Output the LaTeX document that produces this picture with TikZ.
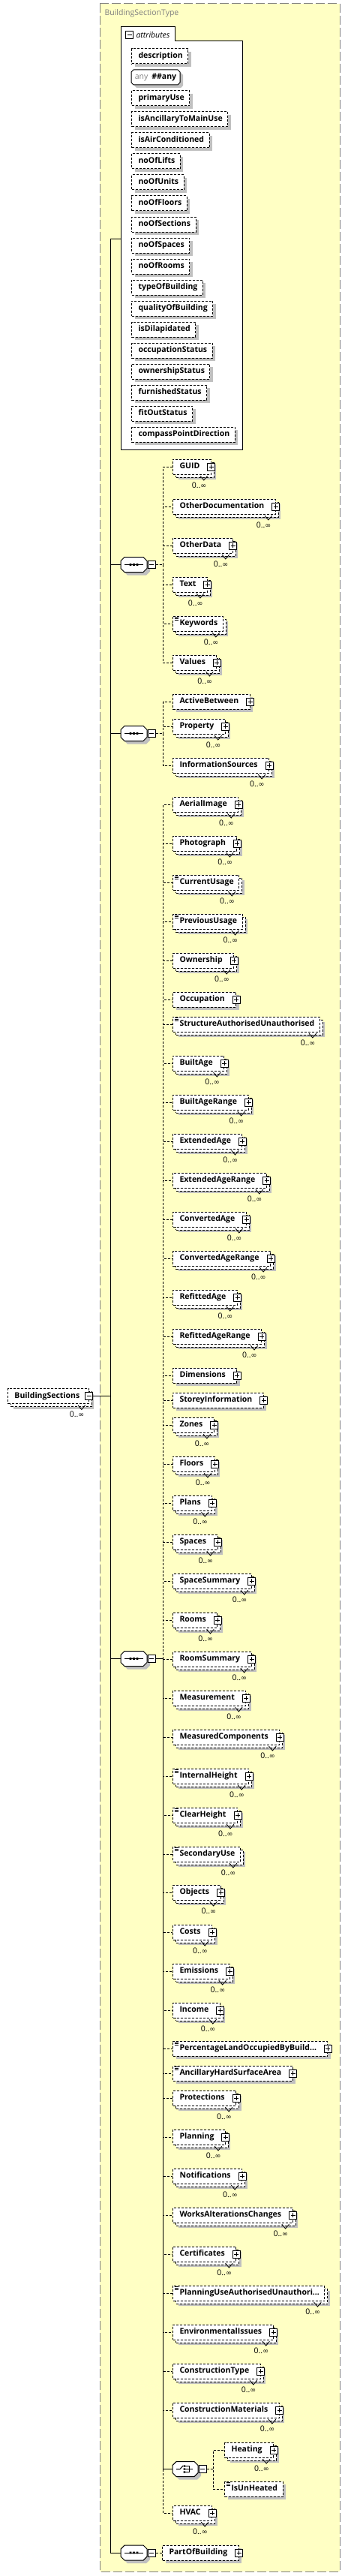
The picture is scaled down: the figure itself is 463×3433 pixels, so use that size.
\documentclass[tikz,border=0pt]{standalone}
\usepackage{fontspec}
\setmainfont{Open Sans}
\newfontfamily\symfont{DejaVu Sans}
\usetikzlibrary{positioning}

\definecolor{typebg}{RGB}{255,255,196}
\definecolor{typeline}{RGB}{128,128,128}
\definecolor{shadowgray}{RGB}{192,192,192}

\newcommand{\elfont}{\fontsize{10.5}{12.6}\selectfont\bfseries}
\newcommand{\occfont}{\fontsize{10.5}{12.6}\selectfont}
\newcommand{\infin}{{\symfont\fontsize{9.5}{10}\selectfont ∞}}

\newcommand{\octo}[4]{%
  \fill[shadowgray, shift={(#1.center)}, xshift=4pt, yshift=-4pt]
    (-#2,-#3+#4) -- (-#2+#4,-#3) -- (#2-#4,-#3) -- (#2,-#3+#4) -- (#2,#3-#4) -- (#2-#4,#3) -- (-#2+#4,#3) -- (-#2,#3-#4) -- cycle;
  \draw[fill=white, shift={(#1.center)}]
    (-#2,-#3+#4) -- (-#2+#4,-#3) -- (#2-#4,-#3) -- (#2,-#3+#4) -- (#2,#3-#4) -- (#2-#4,#3) -- (-#2+#4,#3) -- (-#2,#3-#4) -- cycle;}
\newcommand{\seqmark}[1]{%
  \draw[shift={(#1.center)}] (-12.5,0) -- (12.5,0);
  \fill[shift={(#1.center)}] (-5.8,-1.3) rectangle (-3.2,1.3) (-1.3,-1.3) rectangle (1.3,1.3) (3.2,-1.3) rectangle (5.8,1.3);}
\newcommand{\choicemark}[1]{%
  \draw[shift={(#1.center)}] (-12,0) -- (-7,0) -- (-3,-4.5);
  \fill[shift={(#1.center)}] (-2.3,-5.2) rectangle (0,-2.8) (-2.3,-1.2) rectangle (0,1.2) (-2.3,2.8) rectangle (0,5.2);
  \draw[shift={(#1.center)}] (0,-4) -- (5,-4) -- (5,4) -- (0,4) (0,0) -- (10,0);}

\tikzset{
  elbase/.style={draw, dash pattern=on 3pt off 2pt, fill=white, anchor=west, font=\elfont,
    minimum height=20pt, inner sep=0pt, text height=8pt, text depth=2.5pt,
    execute at begin node={\hspace*{9pt}}, execute at end node={\hspace*{7pt}}},
  el/.style={elbase, preaction={draw=none, fill=shadowgray, transform canvas={xshift=4pt, yshift=-4pt}}},
  elm/.style={elbase,
    preaction={draw=none, fill=shadowgray, transform canvas={xshift=7pt, yshift=-7pt}},
    preaction={draw, dash pattern=on 3pt off 2pt, fill=white, transform canvas={xshift=4pt, yshift=-4pt}},
    label={[notch]south east:}, label={[occ]south east:0..\infin}},
  kids/.style={execute at end node={\hspace*{8pt}}, label={[pbox]east:}},
  simple/.style={path picture={\draw[solid, line width=.7pt]
    ([shift={(2,1.5)}]path picture bounding box.north west) -- ++(5,0)
    ([shift={(2,3.5)}]path picture bounding box.north west) -- ++(5,0)
    ([shift={(2,5.5)}]path picture bounding box.north west) -- ++(5,0);}},
  notch/.style={anchor=north, xshift=-10pt, yshift=-1pt, minimum width=10pt, minimum height=6pt, inner sep=0pt,
    path picture={\draw[solid, line width=.8pt] (path picture bounding box.north west) -- (path picture bounding box.south) -- (path picture bounding box.north east);}},
  occ/.style={anchor=east, xshift=-6pt, yshift=-14pt, font=\occfont, inner sep=0pt},
  pbox/.style={rectangle, draw, solid, fill=white, minimum size=10pt, inner sep=0pt, anchor=center,
    path picture={\draw ([xshift=2pt]path picture bounding box.west) -- ([xshift=-2pt]path picture bounding box.east)
      ([yshift=-2pt]path picture bounding box.north) -- ([yshift=2pt]path picture bounding box.south);}},
  mbox/.style={rectangle, draw, solid, fill=white, minimum size=10pt, inner sep=0pt, anchor=center,
    path picture={\draw ([xshift=2pt]path picture bounding box.west) -- ([xshift=-2pt]path picture bounding box.east);}},
  compo/.style={rectangle, minimum width=35pt, minimum height=20pt, inner sep=0pt},
  optlink/.style={dash pattern=on 3pt off 2pt}
}

\begin{document}
\begin{tikzpicture}[x=1pt, y=-1pt, line width=1pt]
\useasboundingbox (0,0) rectangle (463,3433);
\draw[typeline, fill=typebg, dash pattern=on 12pt off 4pt] (133,5) rectangle (453,3427);
\node[anchor=west, text=typeline, font=\occfont, inner sep=0pt] (typename) at (139,18) {BuildingSectionType};

\draw[fill=white] (161,599) -- (161,36) -- (233,36) -- (233,55) -- (323,55) -- (323,599) -- cycle;
\node[mbox] (attrm) at (172.5,46.5) {};
\node[anchor=west, font=\occfont\itshape, inner sep=0pt] (attrlbl) at (181,46.5) {attributes};
\coordinate (attrs) at (161,318);
\foreach \y/\a in {75/description, 131/primaryUse, 159/isAncillaryToMainUse, 187/isAirConditioned,
  215/noOfLifts, 243/noOfUnits, 271/noOfFloors, 299/noOfSections, 327/noOfSpaces, 355/noOfRooms,
  383/typeOfBuilding, 411/qualityOfBuilding, 439/isDilapidated, 467/occupationStatus,
  495/ownershipStatus, 523/furnishedStatus, 551/fitOutStatus, 579/compassPointDirection}
  \node[el] (\a) at (175,\y) {\a};
\coordinate (anyc) at (207.5,103);
\octo{anyc}{32.5}{10}{3}
\node[font=\occfont, inner sep=0pt] (anyattr) at (anyc) {\textcolor{typeline}{any}\hspace{5pt}\textbf{\#\#any}};

\node[elm, label={[mbox, name=bsecm]east:}, execute at end node={\hspace*{5pt}}] (bsec) at (10,1860.5) {BuildingSections};
\coordinate (ttop) at (147,318);
\coordinate (tbot) at (147,3402);

\node[compo] (seqA) at (178.5,752.5) {};
\octo{seqA}{17.5}{10}{5}
\seqmark{seqA}
\node[mbox, right=0pt of seqA] (seqAm) {};
\node[elm,kids] (guid) at (230,622) {GUID};
\node[elm,kids] (otherdoc) at (230,675) {OtherDocumentation};
\node[elm,kids] (otherdata) at (230,727) {OtherData};
\node[elm,kids] (txt) at (230,779) {Text};
\node[elm,simple] (keywords) at (230,831) {Keywords};
\node[elm,kids] (values) at (230,883) {Values};

\node[compo] (seqB) at (178.5,977.5) {};
\octo{seqB}{17.5}{10}{5}
\seqmark{seqB}
\node[mbox, right=0pt of seqB] (seqBm) {};
\node[el,kids] (activebetween) at (230,935) {ActiveBetween};
\node[elm,kids] (property) at (230,968) {Property};
\node[elm,kids] (infosources) at (230,1020) {InformationSources};

\node[compo] (seqC) at (178.5,2210.5) {};
\octo{seqC}{17.5}{10}{5}
\seqmark{seqC}
\node[mbox, right=0pt of seqC] (seqCm) {};
\node[elm,kids] (aerial) at (230,1072) {AerialImage};
\node[elm,kids] (photo) at (230,1124) {Photograph};
\node[elm,simple] (curusage) at (230,1176) {CurrentUsage};
\node[elm,simple] (prevusage) at (230,1228) {PreviousUsage};
\node[elm,kids] (ownership) at (230,1280) {Ownership};
\node[el,kids] (occupation) at (230,1332) {Occupation};
\node[elm,simple] (structauth) at (230,1365) {StructureAuthorisedUnauthorised};
\node[elm,kids] (builtage) at (230,1417) {BuiltAge};
\node[elm,kids] (builtrange) at (230,1469) {BuiltAgeRange};
\node[elm,kids] (extage) at (230,1521) {ExtendedAge};
\node[elm,kids] (extrange) at (230,1573) {ExtendedAgeRange};
\node[elm,kids] (convage) at (230,1625) {ConvertedAge};
\node[elm,kids] (convrange) at (230,1677) {ConvertedAgeRange};
\node[elm,kids] (refitage) at (230,1729) {RefittedAge};
\node[elm,kids] (refitrange) at (230,1781) {RefittedAgeRange};
\node[el,kids] (dimensions) at (230,1833) {Dimensions};
\node[el,kids] (storeyinfo) at (230,1866) {StoreyInformation};
\node[elm,kids] (zones) at (230,1899) {Zones};
\node[elm,kids] (floors) at (230,1951) {Floors};
\node[elm,kids] (plans) at (230,2003) {Plans};
\node[elm,kids] (spaces) at (230,2055) {Spaces};
\node[elm,kids] (spacesum) at (230,2107) {SpaceSummary};
\node[elm,kids] (rooms) at (230,2159) {Rooms};
\node[elm,kids] (roomsum) at (230,2211) {RoomSummary};
\node[elm,kids] (measurement) at (230,2263) {Measurement};
\node[elm,kids] (measuredcomp) at (230,2315) {MeasuredComponents};
\node[elm,simple,kids] (intheight) at (230,2367) {InternalHeight};
\node[elm,simple,kids] (clearheight) at (230,2419) {ClearHeight};
\node[elm,simple] (secuse) at (230,2471) {SecondaryUse};
\node[elm,kids] (objects) at (230,2522) {Objects};
\node[elm,kids] (costs) at (230,2575) {Costs};
\node[elm,kids] (emissions) at (230,2627) {Emissions};
\node[elm,kids] (income) at (230,2679) {Income};
\node[el,simple,kids] (pctland) at (230,2730) {PercentageLandOccupiedByBuild…};
\node[el,simple,kids] (ancillary) at (230,2763) {AncillaryHardSurfaceArea};
\node[elm,kids] (protections) at (230,2796) {Protections};
\node[elm,kids] (planning) at (230,2848) {Planning};
\node[elm,kids] (notifications) at (230,2900) {Notifications};
\node[elm,kids] (works) at (230,2952) {WorksAlterationsChanges};
\node[elm,kids] (certificates) at (230,3004) {Certificates};
\node[elm,simple] (planninguse) at (230,3056) {PlanningUseAuthorisedUnauthori…};
\node[elm,kids] (environ) at (230,3108) {EnvironmentalIssues};
\node[elm,kids] (constype) at (230,3160) {ConstructionType};
\node[elm,kids] (consmat) at (230,3212) {ConstructionMaterials};
\node[compo, minimum width=34pt] (choice) at (247,3290.5) {};
\octo{choice}{17}{10}{5}
\choicemark{choice}
\node[mbox, right=0pt of choice] (choicem) {};
\node[elm,kids] (heating) at (299,3265) {Heating};
\node[el,simple] (isunheated) at (299,3317) {IsUnHeated};
\node[elm,kids] (hvac) at (230,3349) {HVAC};

\node[compo] (seqD) at (178.5,3402) {};
\octo{seqD}{17.5}{10}{5}
\seqmark{seqD}
\node[mbox, right=0pt of seqD] (seqDm) {};
\node[el,kids] (partofbuilding) at (216,3402) {PartOfBuilding};

\draw (ttop) -- (tbot);
\draw (ttop) -- (attrs);
\draw (bsecm.east) -- (bsecm.east -| ttop);
\foreach \s in {seqA,seqB,seqC,seqD}
  \draw (\s.west) -- (\s.west -| ttop);
\foreach \n in {guid,otherdoc,otherdata,txt,keywords,values}
  \draw[optlink] (seqAm.east) -- ++(10,0) |- (\n.west);
\foreach \n in {activebetween,property,infosources}
  \draw[optlink] (seqBm.east) -- ++(10,0) |- (\n.west);
\foreach \n in {aerial,photo,curusage,prevusage,ownership,occupation,structauth,builtage,builtrange,
  extage,extrange,convage,convrange,refitage,refitrange,dimensions,storeyinfo,zones,floors,plans,
  spaces,spacesum,rooms,roomsum,measurement,measuredcomp,intheight,clearheight,secuse,objects,costs,
  emissions,income,pctland,ancillary,protections,planning,notifications,works,certificates,
  planninguse,environ,constype,consmat,hvac}
  \draw[optlink] (seqCm.east) -- ++(10,0) |- (\n.west);
\draw (seqCm.east) -- ++(10,0) |- (choice.west);
\foreach \n in {heating,isunheated}
  \draw[optlink] (choicem.east) -- ++(9,0) |- (\n.west);
\draw[optlink] (seqDm.east) -- (partofbuilding.west);
\end{tikzpicture}
\end{document}
